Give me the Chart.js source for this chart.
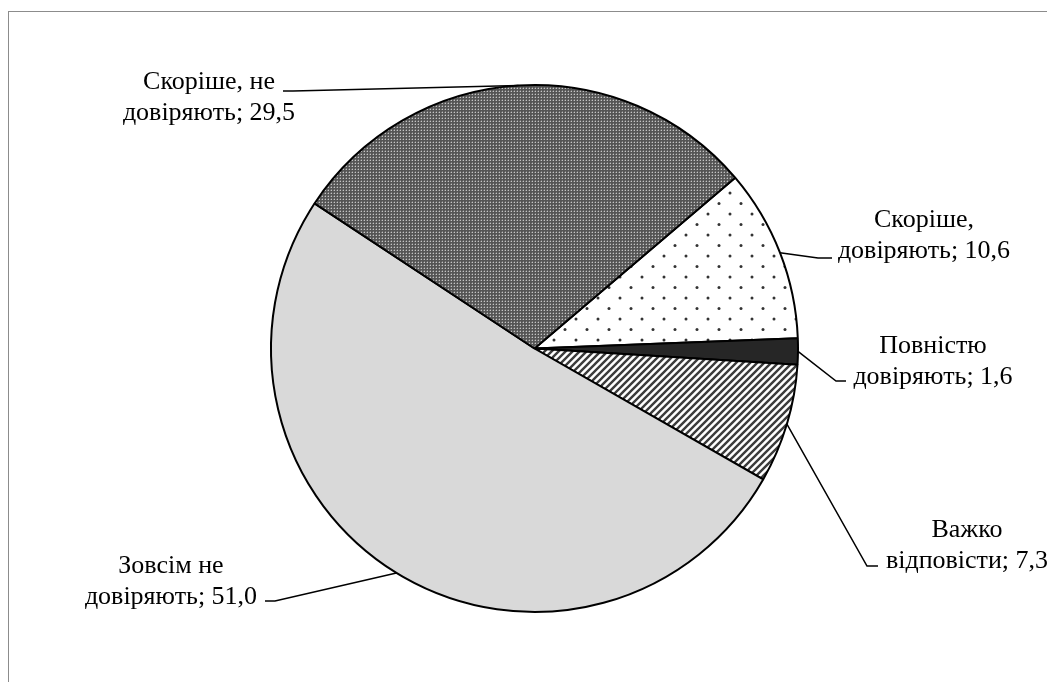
<!DOCTYPE html>
<html lang="uk">
<head>
    <meta charset="UTF-8">
    <title>Довіра</title>
    <script src="https://cdn.jsdelivr.net/npm/chart.js"></script>
    <style>
        body { margin: 0; overflow: hidden; background: #fff; }
        .frame { position: absolute; left: 8px; top: 11px; width: 1100px; height: 720px; border: 1px solid #8c8c8c; }
        .master { position: absolute; left: 0; top: 0; width: 1047px; height: 682px; }
    </style>
</head>
<body>
    <div class="frame"></div>
    <div class="master">
        <canvas id="myChart"></canvas>
    </div>

    <script>
        // data, in clockwise order starting from "Скоріше, довіряють"
        const categories = ['Скоріше, довіряють', 'Повністю довіряють', 'Важко відповісти', 'Зовсім не довіряють', 'Скоріше, не довіряють'];
        const values = [10.6, 1.6, 7.3, 51.0, 29.5];

        // label placement: text centre x, first baseline y, then leader elbow (ex, ey) and horizontal end (hx)
        const labelPos = [
            { x: 924, y: 227, ex: 818, ey: 258, hx: 832 },
            { x: 933, y: 353, ex: 836, ey: 381, hx: 846 },
            { x: 967, y: 537, ex: 867, ey: 566, hx: 878 },
            { x: 171, y: 573, ex: 275, ey: 601, hx: 265 },
            { x: 209, y: 89,  ex: 293, ey: 91,  hx: 283 }
        ];

        function makePattern(size, draw) {
            const c = document.createElement('canvas');
            c.width = size[0];
            c.height = size[1];
            const g = c.getContext('2d');
            draw(g, size[0], size[1]);
            return g.createPattern(c, 'repeat');
        }

        const dotted = makePattern([22, 21], (g) => {
            g.fillStyle = '#fff';
            g.fillRect(0, 0, 22, 21);
            g.fillStyle = '#333';
            g.beginPath(); g.arc(4, 4, 1.5, 0, Math.PI * 2); g.fill();
            g.beginPath(); g.arc(15, 14.5, 1.5, 0, Math.PI * 2); g.fill();
        });

        const hatch = makePattern([7, 7], (g) => {
            g.fillStyle = '#fff';
            g.fillRect(0, 0, 7, 7);
            g.strokeStyle = '#3c3c3c';
            g.lineWidth = 2.4;
            g.beginPath();
            g.moveTo(-1, 8); g.lineTo(8, -1);
            g.moveTo(-4.5, 4.5); g.lineTo(4.5, -4.5);
            g.moveTo(2.5, 11.5); g.lineTo(11.5, 2.5);
            g.stroke();
        });

        const checker = makePattern([3, 3], (g) => {
            g.fillStyle = '#555';
            g.fillRect(0, 0, 3, 3);
            g.fillStyle = '#c4c4c4';
            g.fillRect(1, 1, 1, 1);
            g.fillStyle = '#7a7a7a';
            g.fillRect(0, 1, 1, 1);
            g.fillRect(1, 0, 1, 1);
        });

        const fills = [dotted, '#262626', hatch, '#d9d9d9', checker];

        function fmt(v) {
            return v.toFixed(1).replace('.', ',');
        }

        const leaderLabels = {
            id: 'leaderLabels',
            afterDatasetsDraw(chart) {
                const ctx = chart.ctx;
                const meta = chart.getDatasetMeta(0);
                ctx.save();
                ctx.strokeStyle = '#000';
                ctx.lineWidth = 1.5;
                ctx.fillStyle = '#000';
                ctx.font = '26px "Liberation Serif", "Times New Roman", serif';
                ctx.textAlign = 'center';
                ctx.textBaseline = 'alphabetic';
                meta.data.forEach((arc, i) => {
                    const p = labelPos[i];
                    const mid = (arc.startAngle + arc.endAngle) / 2;
                    const sx = arc.x + Math.cos(mid) * arc.outerRadius;
                    const sy = arc.y + Math.sin(mid) * arc.outerRadius;
                    ctx.beginPath();
                    ctx.moveTo(sx, sy);
                    ctx.lineTo(p.ex, p.ey);
                    ctx.lineTo(p.hx, p.ey);
                    ctx.stroke();

                    const words = categories[i].split(' ');
                    const last = words.pop();
                    ctx.fillText(words.join(' '), p.x, p.y);
                    ctx.fillText(last + '; ' + fmt(values[i]), p.x, p.y + 31);
                });
                ctx.restore();
            }
        };

        const ctx = document.getElementById('myChart').getContext('2d');
        const myChart = new Chart(ctx, {
            type: 'pie',
            data: {
                labels: categories,
                datasets: [{
                    data: values,
                    backgroundColor: fills,
                    borderColor: '#000',
                    borderWidth: 2
                }]
            },
            options: {
                responsive: true,
                maintainAspectRatio: false,
                animation: false,
                rotation: 49.6,
                layout: { padding: { left: 270, right: 248, top: 84, bottom: 69 } },
                plugins: {
                    legend: { display: false },
                    tooltip: { enabled: false }
                }
            },
            plugins: [leaderLabels]
        });
    </script>
</body>
</html>
